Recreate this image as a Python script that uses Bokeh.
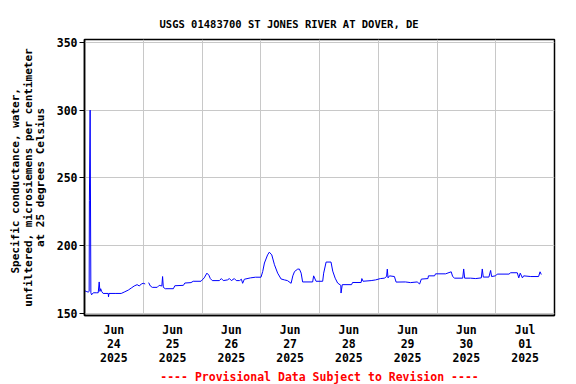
import numpy as np
import pandas as pd
from bokeh.plotting import figure
from bokeh.models import Range1d, FixedTicker, Title, ColumnDataSource
from bokeh.embed import file_html
from bokeh.resources import INLINE

# ---------------- data ----------------
times = [
    "2025-06-24 00:06", "2025-06-24 00:42", "2025-06-24 01:30", "2025-06-24 01:54",
    "2025-06-24 02:00", "2025-06-24 02:18", "2025-06-24 02:36", "2025-06-24 02:54",
    "2025-06-24 03:36", "2025-06-24 04:48", "2025-06-24 05:36", "2025-06-24 06:00",
    "2025-06-24 06:18", "2025-06-24 06:36", "2025-06-24 07:00", "2025-06-24 07:36",
    "2025-06-24 09:42", "2025-06-24 09:48", "2025-06-24 10:00", "2025-06-24 12:30",
    "2025-06-24 15:00", "2025-06-24 16:12", "2025-06-24 17:54", "2025-06-24 19:06",
    "2025-06-24 20:18", "2025-06-24 21:30", "2025-06-24 22:24", "2025-06-24 23:12",
    "2025-06-25 00:00", "2025-06-25 00:48", "2025-06-25 01:30", "2025-06-25 02:12",
    "2025-06-25 02:54", "2025-06-25 03:42", "2025-06-25 05:42", "2025-06-25 06:30",
    "2025-06-25 07:36", "2025-06-25 07:54", "2025-06-25 08:12", "2025-06-25 09:00",
    "2025-06-25 12:18", "2025-06-25 12:54", "2025-06-25 16:24", "2025-06-25 17:00",
    "2025-06-25 19:30", "2025-06-25 20:24", "2025-06-25 23:36", "2025-06-26 00:06",
    "2025-06-26 00:54", "2025-06-26 02:00", "2025-06-26 02:48", "2025-06-26 03:24",
    "2025-06-26 04:12", "2025-06-26 07:06", "2025-06-26 07:54", "2025-06-26 08:42",
    "2025-06-26 10:24", "2025-06-26 11:12", "2025-06-26 12:00", "2025-06-26 13:12",
    "2025-06-26 14:00", "2025-06-26 15:18", "2025-06-26 16:06", "2025-06-26 16:36",
    "2025-06-26 17:18", "2025-06-26 19:48", "2025-06-26 21:48", "2025-06-27 00:06",
    "2025-06-27 00:48", "2025-06-27 01:30", "2025-06-27 02:48", "2025-06-27 03:30",
    "2025-06-27 04:30", "2025-06-27 05:36", "2025-06-27 06:54", "2025-06-27 08:18",
    "2025-06-27 09:42", "2025-06-27 10:54", "2025-06-27 12:24", "2025-06-27 13:06",
    "2025-06-27 13:48", "2025-06-27 15:06", "2025-06-27 15:48", "2025-06-27 16:30",
    "2025-06-27 17:06", "2025-06-27 21:12", "2025-06-27 21:36", "2025-06-27 22:36",
    "2025-06-28 01:18", "2025-06-28 01:42", "2025-06-28 02:42", "2025-06-28 04:42",
    "2025-06-28 05:24", "2025-06-28 06:24", "2025-06-28 07:24", "2025-06-28 08:42",
    "2025-06-28 08:48", "2025-06-28 09:18", "2025-06-28 13:06", "2025-06-28 13:30",
    "2025-06-28 17:00", "2025-06-28 17:18", "2025-06-28 17:48", "2025-06-28 21:06",
    "2025-06-28 22:54", "2025-06-29 00:54", "2025-06-29 02:30", "2025-06-29 03:24",
    "2025-06-29 03:42", "2025-06-29 04:00", "2025-06-29 04:36", "2025-06-29 06:36",
    "2025-06-29 07:18", "2025-06-29 11:06", "2025-06-29 13:12", "2025-06-29 15:54",
    "2025-06-29 16:54", "2025-06-29 17:36", "2025-06-29 20:18", "2025-06-29 20:30",
    "2025-06-29 23:00", "2025-06-29 23:24", "2025-06-30 03:30", "2025-06-30 05:48",
    "2025-06-30 06:24", "2025-06-30 07:12", "2025-06-30 10:30", "2025-06-30 10:54",
    "2025-06-30 11:18", "2025-06-30 13:42", "2025-06-30 15:48", "2025-06-30 18:06",
    "2025-06-30 18:30", "2025-06-30 18:54", "2025-06-30 21:12", "2025-06-30 21:54",
    "2025-06-30 22:18", "2025-06-30 23:54", "2025-07-01 00:36", "2025-07-01 05:24",
    "2025-07-01 06:06", "2025-07-01 08:48", "2025-07-01 09:24", "2025-07-01 10:00",
    "2025-07-01 10:54", "2025-07-01 11:24", "2025-07-01 14:18", "2025-07-01 17:30",
    "2025-07-01 18:06", "2025-07-01 18:36",
]
conductance = [
    166.5, 166.0, 165.5, 166.0,
    233.0, 300.0, 165.0, 163.5,
    165.0, 165.0, 165.0, 173.0,
    166.0, 168.0, 166.0, 164.5,
    164.5, 162.0, 164.5, 164.5,
    164.5, 165.5, 167.0, 168.5,
    170.0, 171.0, 170.0, 171.5,
    172.0, 171.5, float("nan"), 172.5,
    170.0, 169.0, 169.0, 170.5,
    170.0, 177.0, 169.0, 168.0,
    168.0, 170.2, 170.5, 172.2,
    172.5, 173.5, 173.5, 174.5,
    176.0, 179.5, 178.0, 175.5,
    174.0, 174.0, 175.5, 174.0,
    174.5, 175.5, 174.0, 175.5,
    174.0, 174.0, 175.0, 172.0,
    175.0, 176.0, 176.5, 176.5,
    180.7, 187.0, 193.0, 195.0,
    193.0, 185.7, 179.5, 175.2,
    174.5, 174.0, 172.0, 177.5,
    180.7, 182.5, 182.5, 179.5,
    173.0, 173.0, 177.5, 173.5,
    173.5, 179.5, 187.7, 187.7,
    181.0, 175.8, 172.2, 170.5,
    164.8, 171.0, 171.0, 172.6,
    172.6, 175.5, 173.5, 174.0,
    174.5, 175.5, 175.8, 177.0,
    182.5, 176.0, 177.5, 177.0,
    172.9, 173.0, 172.5, 173.0,
    171.5, 175.1, 175.5, 177.5,
    177.5, 179.0, 179.0, 180.5,
    177.0, 175.8, 175.8, 182.6,
    175.8, 175.8, 175.5, 176.0,
    182.6, 176.6, 176.6, 181.5,
    177.0, 177.5, 178.8, 178.8,
    179.8, 179.8, 176.0, 179.5,
    176.0, 177.5, 177.0, 177.0,
    180.5, 178.5,
]

label_days = ["2025-06-24", "2025-06-25", "2025-06-26", "2025-06-27",
              "2025-06-28", "2025-06-29", "2025-06-30", "2025-07-01"]
day_labels = ["Jun\n24\n2025", "Jun\n25\n2025", "Jun\n26\n2025", "Jun\n27\n2025",
              "Jun\n28\n2025", "Jun\n29\n2025", "Jun\n30\n2025", "Jul\n01\n2025"]
grid_days = ["2025-06-25", "2025-06-26", "2025-06-27", "2025-06-28",
             "2025-06-29", "2025-06-30", "2025-07-01"]
y_ticks = [150, 200, 250, 300, 350]

title_text = "USGS 01483700 ST JONES RIVER AT DOVER, DE"
ylabel_lines = ["Specific conductance, water,",
                "unfiltered, microsiemens per centimeter",
                "at 25 degrees Celsius"]
footer_text = "---- Provisional Data Subject to Revision ----"

# ---------------- helpers ----------------
def ms(s):
    return pd.Timestamp(s).value // 10**6

HALF_DAY = 12 * 3600 * 1000
noon_ticks = [ms(d) + HALF_DAY for d in label_days]
mid_ticks = [ms(d) for d in grid_days]

# centre the lines of the monospace y label by padding with no-break spaces
NB = "\u00a0"
width_chars = max(len(s) for s in ylabel_lines)
def centred(s):
    extra = width_chars - len(s)
    left = extra // 2
    return NB * left + s + NB * (extra - left)
ylabel_text = "\n".join(centred(s) for s in ylabel_lines)

FONT = "DejaVu Sans Mono"

src = ColumnDataSource(dict(t=pd.to_datetime(times), v=conductance))

p = figure(width=576, height=384, output_backend="svg", toolbar_location=None,
           x_axis_type="datetime",
           x_range=Range1d(ms("2025-06-24"), ms("2025-07-02")),
           y_range=Range1d(148.2, 352.2),
           min_border_left=84, min_border_right=22,
           min_border_top=39, min_border_bottom=69)
p.title = None
p.outline_line_color = "black"
p.outline_line_width = 1.5
p.background_fill_color = "white"
p.border_fill_color = "white"

p.line("t", "v", source=src, line_color="#0000ff", line_width=1)

# x axis
p.xaxis.ticker = FixedTicker(ticks=noon_ticks)
p.xaxis.major_label_overrides = {t: lab for t, lab in zip(noon_ticks, day_labels)}
p.xaxis.major_tick_out = 0
p.xaxis.major_tick_in = 0
p.xaxis.minor_tick_out = 0
p.xaxis.minor_tick_in = 0
p.xaxis.axis_line_color = "black"
p.xaxis.axis_line_width = 1.5
p.xaxis.major_label_text_font = FONT
p.xaxis.major_label_text_font_style = "bold"
p.xaxis.major_label_text_font_size = "11.5px"
p.xaxis.major_label_text_line_height = 1.0
p.xaxis.major_label_text_color = "black"
p.xaxis.major_label_standoff = 7
p.xgrid.ticker = FixedTicker(ticks=mid_ticks)
p.xgrid.grid_line_color = "#c8c8c8"
p.xgrid.grid_line_width = 1

# y axis
p.yaxis.ticker = FixedTicker(ticks=y_ticks)
p.yaxis.major_tick_out = 5
p.yaxis.major_tick_in = 0
p.yaxis.minor_tick_out = 0
p.yaxis.minor_tick_in = 0
p.yaxis.axis_line_color = "black"
p.yaxis.axis_line_width = 1.5
p.yaxis.major_tick_line_color = "black"
p.yaxis.major_label_text_font = FONT
p.yaxis.major_label_text_font_style = "bold"
p.yaxis.major_label_text_font_size = "11.5px"
p.yaxis.major_label_text_color = "black"
p.yaxis.major_label_standoff = 2
p.ygrid.ticker = FixedTicker(ticks=y_ticks)
p.ygrid.grid_line_color = "#c8c8c8"
p.ygrid.grid_line_width = 1

p.add_layout(Title(text=ylabel_text, align="center", text_font=FONT,
                   text_font_style="bold", text_font_size="11px",
                   text_line_height=0.96, text_color="black", standoff=13), "left")

p.add_layout(Title(text=title_text, align="left", offset=75, text_font=FONT,
                   text_font_style="bold", text_font_size="10.5px",
                   text_color="black", standoff=20), "above")
p.add_layout(Title(text=footer_text, align="center", text_font=FONT,
                   text_font_style="bold", text_font_size="11.5px",
                   text_color="red", standoff=0), "below")

open("out.html", "w").write(file_html(p, INLINE))
